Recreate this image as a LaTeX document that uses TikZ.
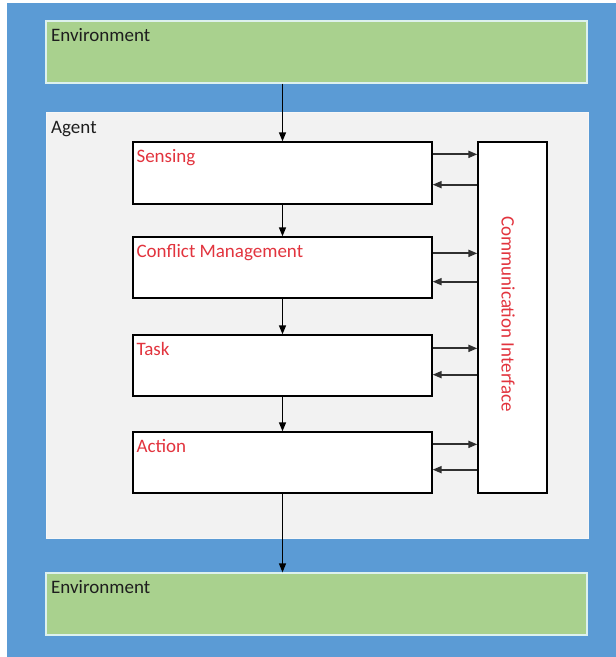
\documentclass[tikz,border=0pt]{standalone}
\usepackage{fontspec}
\setmainfont{Carlito}
\usetikzlibrary{arrows.meta,calc}

\definecolor{frameblue}{HTML}{5B9BD5}
\definecolor{envgreen}{HTML}{A9D18E}
\definecolor{envedge}{HTML}{DDF1EE}
\definecolor{agentgrey}{HTML}{F2F2F2}
\definecolor{labelred}{HTML}{E2343E}
\definecolor{labeldark}{HTML}{1E1E1E}
\definecolor{linkgrey}{HTML}{303030}

\tikzset{
  envbox/.style={draw=envedge, line width=1.2pt, fill=envgreen, inner sep=0pt},
  agentbox/.style={draw=agentgrey!60!white, line width=0.8pt, fill=agentgrey, inner sep=0pt},
  stagebox/.style={draw=black, line width=1.3pt, fill=white, inner sep=0pt},
  txt/.style={font=\fontsize{19}{22}\selectfont, inner sep=0pt, anchor=base west},
  darktxt/.style={txt, text=labeldark},
  redtxt/.style={txt, text=labelred},
  flow/.style={draw=black, line width=1.3pt, -{Triangle[length=9pt,width=7pt]}},
  link/.style={draw=linkgrey, line width=1.8pt, -{Triangle[length=9pt,width=7pt]}}
}

\begin{document}
\begin{tikzpicture}[x=1pt, y=-1pt]
  % page and outer frame
  \useasboundingbox (0,0) rectangle (616,657);
  \fill[white] (0,0) rectangle (616,657);
  \fill[frameblue] (7,3) rectangle (616,657);

  % environment (top), agent area, environment (bottom)
  \node[envbox, minimum width=541pt, minimum height=62pt] (envtop) at (316.5,52) {};
  \node[agentbox, minimum width=542pt, minimum height=426pt] (agent) at (317,325) {};
  \node[envbox, minimum width=541pt, minimum height=62pt] (envbot) at (316.5,604) {};

  \node[darktxt] (envtoplbl) at (51,41) {Environment};
  \node[darktxt] (agentlbl) at (51,133) {Agent};
  \node[darktxt] (envbotlbl) at (51,593) {Environment};

  % processing stages
  \node[stagebox, minimum width=299pt, minimum height=62pt] (sensing) at (282.5,173) {};
  \node[stagebox, minimum width=299pt, minimum height=61pt] (conflict) at (282.5,267.5) {};
  \node[stagebox, minimum width=299pt, minimum height=61pt] (task) at (282.5,365.5) {};
  \node[stagebox, minimum width=299pt, minimum height=61pt] (action) at (282.5,462.5) {};

  \node[redtxt] (sensinglbl) at ($(sensing.north west)+(4,21)$) {Sensing};
  \node[redtxt] (conflictlbl) at ($(conflict.north west)+(4,21)$) {Conflict Management};
  \node[redtxt] (tasklbl) at ($(task.north west)+(4,21)$) {Task};
  \node[redtxt] (actionlbl) at ($(action.north west)+(4,21)$) {Action};

  % communication interface
  \node[stagebox, minimum width=69pt, minimum height=351pt] (comm) at (512.5,317.5) {};
  \node[font=\fontsize{19}{22}\selectfont, text=labelred, inner sep=0pt, rotate=-90]
    (commlbl) at (508,314) {Communication Interface};

  % main flow
  \draw[flow] (sensing.north |- envtop.south) -- (sensing.north);
  \draw[flow] (sensing.south) -- (conflict.north);
  \draw[flow] (conflict.south) -- (task.north);
  \draw[flow] (task.south) -- (action.north);
  \draw[flow] (action.south) -- (action.south |- envbot.north);

  % exchanges with the communication interface
  \coordinate (s1) at ($(sensing.north east)+(0,13)$);
  \coordinate (s2) at ($(sensing.south east)+(0,-20)$);
  \coordinate (c1) at ($(conflict.north east)+(0,17)$);
  \coordinate (c2) at ($(conflict.south east)+(0,-17)$);
  \coordinate (t1) at ($(task.north east)+(0,14)$);
  \coordinate (t2) at ($(task.south east)+(0,-22)$);
  \coordinate (a1) at ($(action.north east)+(0,13)$);
  \coordinate (a2) at ($(action.south east)+(0,-24)$);

  \draw[link] (s1) -- (s1 -| comm.west);
  \draw[link] (s2 -| comm.west) -- (s2);
  \draw[link] (c1) -- (c1 -| comm.west);
  \draw[link] (c2 -| comm.west) -- (c2);
  \draw[link] (t1) -- (t1 -| comm.west);
  \draw[link] (t2 -| comm.west) -- (t2);
  \draw[link] (a1) -- (a1 -| comm.west);
  \draw[link] (a2 -| comm.west) -- (a2);
\end{tikzpicture}
\end{document}
